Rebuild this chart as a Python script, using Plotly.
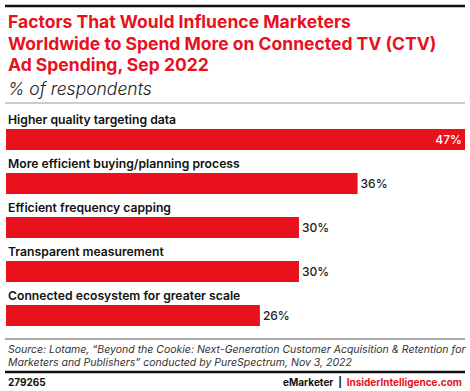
import plotly.graph_objects as go

categories = ["Higher quality targeting data", "More efficient buying/planning process",
              "Efficient frequency capping", "Transparent measurement",
              "Connected ecosystem for greater scale"]
values = [47, 36, 30, 30, 26]
value_labels = ["47%", "36%", "30%", "30%", "26%"]

RED = "#e8111d"
FONT = "Inter"
W, H = 470, 391

def py(px):
    return 1 - px / H

y_idx = list(range(len(categories)))

fig = go.Figure()
fig.add_trace(go.Bar(
    x=values, y=y_idx, orientation="h", width=0.48,
    marker=dict(color=RED, line=dict(width=0)),
    text=value_labels,
    textposition=["inside"] + ["outside"] * 4,
    insidetextanchor="end",
    textfont=dict(family=FONT, size=12, color=["white"] + ["#222222"] * 4, weight=500),
    cliponaxis=False,
))

annotations = []
for i, c in enumerate(categories):
    annotations.append(dict(x=6 / W, xref="paper", y=i, yref="y", yshift=20,
                            text=c, showarrow=False, xanchor="left", yanchor="middle",
                            font=dict(family=FONT, size=12.2, color="#111111", weight=600)))

title_lines = ["Factors That Would Influence Marketers",
               "Worldwide to Spend More on Connected TV (CTV)",
               "Ad Spending, Sep 2022"]
for k, t in enumerate(title_lines):
    annotations.append(dict(x=6 / W, xref="paper", y=py(22 + 21 * k), yref="paper",
                            text=t, showarrow=False, xanchor="left", yanchor="middle",
                            font=dict(family=FONT, size=17.5, color=RED, weight=700)))
annotations.append(dict(x=6 / W, xref="paper", y=py(88), yref="paper",
                        text="<i>% of respondents</i>", showarrow=False, xanchor="left", yanchor="middle",
                        font=dict(family=FONT, size=17.5, color="#222222", weight=300)))
src = ["Source: Lotame, “Beyond the Cookie: Next-Generation Customer Acquisition & Retention for",
       "Marketers and Publishers” conducted by PureSpectrum, Nov 3, 2022"]
for k, t in enumerate(src):
    annotations.append(dict(x=6 / W, xref="paper", y=py(349 + 13 * k), yref="paper",
                            text="<i>" + t + "</i>", showarrow=False, xanchor="left", yanchor="middle",
                            font=dict(family=FONT, size=10.5, color="#333333", weight=400)))
annotations.append(dict(x=6 / W, xref="paper", y=py(382), yref="paper",
                        text="279265", showarrow=False, xanchor="left", yanchor="middle",
                        font=dict(family=FONT, size=10, color="#111111", weight=700)))
annotations.append(dict(x=464 / W, xref="paper", y=py(382), yref="paper",
                        text="eMarketer  |  <span style='color:" + RED + "'>InsiderIntelligence.com</span>",
                        showarrow=False, xanchor="right", yanchor="middle",
                        font=dict(family=FONT, size=10, color="#111111", weight=700)))

shapes = [
    dict(type="line", xref="paper", yref="paper", x0=5 / W, x1=465 / W, y0=py(6), y1=py(6),
         line=dict(color="#111111", width=2.5)),
    dict(type="line", xref="paper", yref="paper", x0=5 / W, x1=465 / W, y0=py(103), y1=py(103),
         line=dict(color="#999999", width=1)),
    dict(type="line", xref="paper", yref="paper", x0=5 / W, x1=465 / W, y0=py(339), y1=py(339),
         line=dict(color="#555555", width=1)),
    dict(type="line", xref="paper", yref="paper", x0=5 / W, x1=465 / W, y0=py(372), y1=py(372),
         line=dict(color="#111111", width=2.5)),
]

fig.update_layout(
    width=W, height=H, margin=dict(l=0, r=0, t=0, b=0),
    paper_bgcolor="white", plot_bgcolor="white",
    showlegend=False,
    xaxis=dict(domain=[6 / W, 465 / W], range=[0, 47], visible=False, fixedrange=True),
    yaxis=dict(domain=[py(337.5), py(117.5)], range=[4.5, -0.5], visible=False, fixedrange=True),
    annotations=annotations, shapes=shapes,
    uniformtext=dict(minsize=8, mode=False),
)

fig.write_html("out.html", config={"displayModeBar": False},
               post_script="document.body.style.margin='0';document.body.style.overflow='hidden';")
